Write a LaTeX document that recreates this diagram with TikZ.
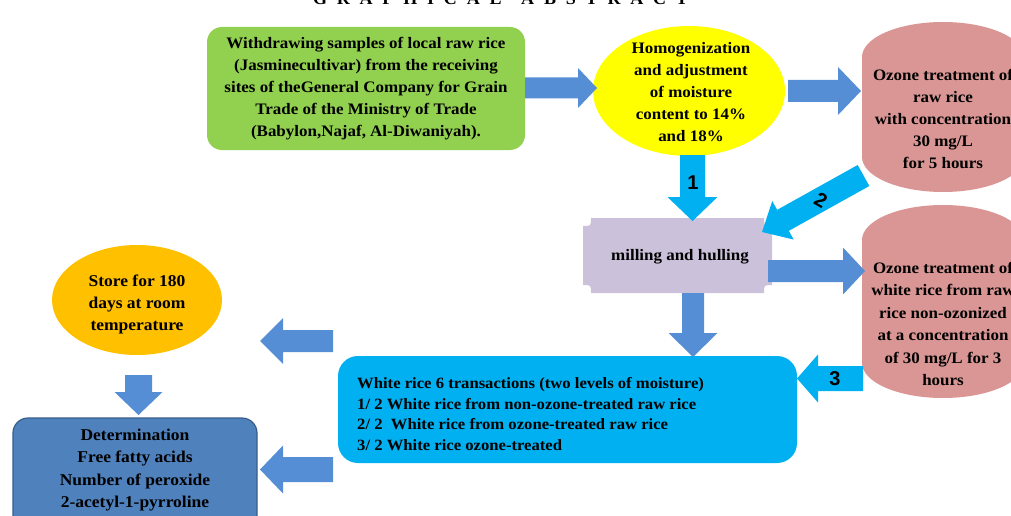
\documentclass[tikz,border=0pt]{standalone}
\usepackage{fontspec}
\setmainfont{Liberation Serif}[FakeStretch=1.06]
\newfontfamily\lsans{Liberation Sans}
\usetikzlibrary{shapes.geometric,calc}
\definecolor{cgreen}{HTML}{92D050}
\definecolor{cyellow}{HTML}{FFFF00}
\definecolor{cpink}{HTML}{D99694}
\definecolor{ccyan}{HTML}{00B0F0}
\definecolor{cblue}{HTML}{558ED5}
\definecolor{clav}{HTML}{CCC1DA}
\definecolor{corange}{HTML}{FFC000}
\definecolor{cdet}{HTML}{4F81BD}
\definecolor{cdetb}{HTML}{385D8A}
\newcommand\barrow[6]{%
  \coordinate (hb) at ($(#2)!#5!(#1)$);
  \fill[#6] ($(#1)!#3!90:(#2)$) -- ($(hb)!#3!90:(#2)$) -- ($(hb)!#4!90:(#2)$)
    -- (#2) -- ($(hb)!#4!-90:(#2)$) -- ($(hb)!#3!-90:(#2)$) -- ($(#1)!#3!-90:(#2)$) -- cycle;}
\begin{document}
\begin{tikzpicture}[x=1pt,y=-1pt,
  txt/.style={font=\bfseries\fontsize{16}{22}\selectfont, align=center, inner sep=0pt},
  numlbl/.style={font=\lsans\bfseries\fontsize{20}{20}\selectfont, inner sep=0pt},
  shapenode/.style={inner sep=0pt, draw=none}]
\useasboundingbox (0,0) rectangle (1011,516);
\clip (0,0) rectangle (1011,516);

% title (cut off by top edge)
\node[anchor=base, font=\bfseries\fontsize{17}{17}\selectfont, inner sep=0pt] (title) at (500.5,5)
  {\makebox[375pt][s]{G\hfill R\hfill A\hfill P\hfill H\hfill I\hfill C\hfill A\hfill L\hfill\hfill A\hfill B\hfill S\hfill T\hfill R\hfill A\hfill C\hfill T}};

% green box
\node[shapenode, fill=cgreen, rounded corners=15pt, minimum width=318pt, minimum height=123pt] (green) at (366,88.5) {};
\node[txt] (greentxt) at (366,89) {Withdrawing samples of local raw rice\\(Jasminecultivar) from the receiving\\sites of theGeneral Company for Grain\\Trade of the Ministry of Trade\\(Babylon,Najaf, Al-Diwaniyah).};

% yellow ellipse
\node[shapenode, ellipse, fill=cyellow, minimum width=192pt, minimum height=130pt] (yellow) at (689,91) {};
\node[txt] (yellowtxt) at (691,92) {Homogenization\\and adjustment\\of moisture\\content to 14\%\\and 18\%};

% pink cylinder 1
\fill[cpink] (862,57) arc[start angle=180, end angle=0, x radius=81pt, y radius=35pt]
  -- (1024,157) arc[start angle=0, end angle=-180, x radius=81pt, y radius=35pt] -- cycle;
\coordinate (pink1) at (943,107);
\node[txt] (pink1txt) at (943,119) {Ozone treatment of\\raw rice\\with concentration\\30 mg/L\\for 5 hours};

% pink cylinder 2
\fill[cpink] (862,240) arc[start angle=180, end angle=0, x radius=81pt, y radius=35pt]
  -- (1024,363) arc[start angle=0, end angle=-180, x radius=81pt, y radius=35pt] -- cycle;
\coordinate (pink2) at (943,301);
\node[txt, font=\bfseries\fontsize{16}{22.4}\selectfont] (pink2txt) at (943,324) {Ozone treatment of\\white rice from raw\\rice non-ozonized\\at a concentration\\of 30 mg/L for 3\\hours};

% milling box (concave corners)
\fill[clav] (591,218) -- (764,218) .. controls (764,226) .. (772,226) -- (772,285)
  .. controls (764,285) .. (764,293) -- (591,293) .. controls (591,285) .. (583,285)
  -- (583,226) .. controls (591,226) .. (591,218) -- cycle;
\node[txt] (mill) at (680,257) {milling and hulling};

% white rice box
\node[shapenode, fill=ccyan, rounded corners=20pt, minimum width=459pt, minimum height=107pt] (white) at (567.5,409.5) {};
\node[txt, align=left, anchor=west, font=\bfseries\fontsize{15.7}{20.7}\selectfont] (whitetxt) at (357,414)
  {White rice 6 transactions (two levels of moisture)\\1/ 2 White rice from non-ozone-treated raw rice\\2/ 2\ \ White rice from ozone-treated raw rice\\3/ 2 White rice ozone-treated};

% orange ellipse
\node[shapenode, ellipse, fill=corange, minimum width=170pt, minimum height=110pt] (store) at (137,300) {};
\node[txt, font=\bfseries\fontsize{16.5}{22}\selectfont] (storetxt) at (137,304) {Store for 180\\days at room\\temperature};

% determination box
\node[draw=cdetb, line width=1.2pt, fill=cdet, rounded corners=15pt, minimum width=244pt, minimum height=112pt, inner sep=0pt] (det) at (135,474) {};
\node[txt, font=\bfseries\fontsize{16.5}{22.5}\selectfont] (dettxt) at (135,470) {Determination\\Free fatty acids\\Number of peroxide\\2-acetyl-1-pyrroline};

% block arrows
\coordinate (a1s) at (525,88);  \coordinate (a1e) at (597,88);
\barrow{a1s}{a1e}{10.5pt}{20pt}{19pt}{cblue}
\coordinate (a2s) at (788,91);  \coordinate (a2e) at (861,91);
\barrow{a2s}{a2e}{11pt}{24pt}{23pt}{cblue}
\coordinate (n1s) at (692.5,155); \coordinate (n1e) at (692.5,221);
\barrow{n1s}{n1e}{12.5pt}{25pt}{24pt}{ccyan}
\node[numlbl] (lbl1) at (693,183) {1};
\coordinate (n2s) at (863.5,175.5); \coordinate (n2e) at (762,232);
\barrow{n2s}{n2e}{12pt}{22pt}{24pt}{ccyan}
\node[numlbl, rotate=-30] (lbl2) at (821,200) {2};
\coordinate (a3s) at (768,271); \coordinate (a3e) at (865,271);
\barrow{a3s}{a3e}{11pt}{23.5pt}{22pt}{cblue}
\coordinate (a4s) at (693,293); \coordinate (a4e) at (693,357);
\barrow{a4s}{a4e}{11pt}{24.5pt}{24pt}{cblue}
\coordinate (n3s) at (863,378.5); \coordinate (n3e) at (797,378.5);
\barrow{n3s}{n3e}{12.5pt}{24pt}{21pt}{ccyan}
\node[numlbl] (lbl3) at (835,379) {3};
\coordinate (a6s) at (333,341); \coordinate (a6e) at (260,341);
\barrow{a6s}{a6e}{11pt}{23pt}{23pt}{cblue}
\coordinate (a7s) at (333,469.5); \coordinate (a7e) at (260,469.5);
\barrow{a7s}{a7e}{12.5pt}{24pt}{23pt}{cblue}
\coordinate (a8s) at (138.5,375); \coordinate (a8e) at (138.5,415);
\barrow{a8s}{a8e}{13.5pt}{24pt}{23pt}{cblue}
\end{tikzpicture}
\end{document}
